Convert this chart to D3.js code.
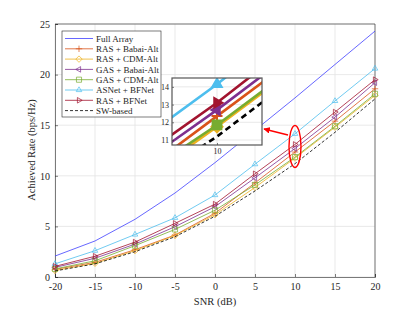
<html>
<head>
<meta charset="utf-8">
<script src="https://cdn.jsdelivr.net/npm/d3@7"></script>
<style>
body { margin: 0; background: #fff; }
text { font-family: "Liberation Serif", "Times New Roman", serif; fill: #262626; }
</style>
</head>
<body>
<script>
// values
var snr = [-20, -15, -10, -5, 0, 5, 10, 15, 20];
var fullArray = [2.07, 3.56, 5.7, 8.3, 11.3, 14.5, 17.7, 21.0, 24.3];
var rasBabai  = [0.75, 1.45, 2.7, 4.15, 6.3, 9.3, 12.35, 15.4, 18.6];
var rasCdm    = [0.65, 1.35, 2.6, 4.1, 6.15, 8.85, 11.75, 14.8, 17.95];
var gasBabai  = [0.95, 1.85, 3.25, 4.97, 6.95, 9.8, 12.7, 15.8, 19.2];
var gasCdm    = [0.8, 1.6, 3.1, 4.7, 6.6, 9.1, 11.85, 14.9, 18.1];
var asnet     = [1.3, 2.6, 4.2, 5.85, 8.1, 11.15, 14.15, 17.4, 20.6];
var rasBfnet  = [1.05, 2.05, 3.45, 5.3, 7.2, 10.2, 13.1, 16.3, 19.5];
var swBased   = [0.6, 1.3, 2.5, 3.98, 6.0, 8.5, 11.2, 14.3, 17.6];

var xTicks = [-20, -15, -10, -5, 0, 5, 10, 15, 20];
var yTicks = [0, 5, 10, 15, 20, 25];
var insetYTicks = [11, 12, 13, 14];
var insetXTicks = [10];

var series = [
  {name: "Full Array",       values: fullArray, color: "#4040ff", marker: null},
  {name: "RAS + Babai-Alt",  values: rasBabai,  color: "#D95319", marker: "plus"},
  {name: "RAS + CDM-Alt",    values: rasCdm,    color: "#EDB120", marker: "diamond"},
  {name: "GAS + Babai-Alt",  values: gasBabai,  color: "#7E2F8E", marker: "left"},
  {name: "GAS + CDM-Alt",    values: gasCdm,    color: "#77AC30", marker: "square"},
  {name: "ASNet + BFNet",    values: asnet,     color: "#4DBEEE", marker: "up"},
  {name: "RAS + BFNet",      values: rasBfnet,  color: "#A2142F", marker: "right"},
  {name: "SW-based",         values: swBased,   color: "#000000", marker: null, dash: "3,2"}
];

function markerPath(type, r) {
  var c = 0.87 * r, h = 0.5 * r, s = 0.8 * r;
  if (type == "plus") return "M" + (-r) + ",0H" + r + "M0," + (-r) + "V" + r;
  if (type == "diamond") return "M0," + (-r) + "L" + r + ",0L0," + r + "L" + (-r) + ",0Z";
  if (type == "up") return "M0," + (-r) + "L" + c + "," + h + "L" + (-c) + "," + h + "Z";
  if (type == "left") return "M" + (-r) + ",0L" + h + "," + (-c) + "L" + h + "," + c + "Z";
  if (type == "right") return "M" + r + ",0L" + (-h) + "," + (-c) + "L" + (-h) + "," + c + "Z";
  if (type == "square") return "M" + (-s) + "," + (-s) + "h" + 2 * s + "v" + 2 * s + "h" + (-2 * s) + "Z";
  return "";
}
function plain(d) { return String(d); }

var W = 415, H = 312;
var svg = d3.select("body").append("svg").attr("width", W).attr("height", H);

var x = d3.scaleLinear().domain([-20, 20]).range([55, 375]);
var y = d3.scaleLinear().domain([0, 25]).range([277, 24]);

// grid
svg.append("g").selectAll("line").data(xTicks).enter().append("line")
  .attr("x1", function(d) { return x(d); }).attr("x2", function(d) { return x(d); })
  .attr("y1", y(0)).attr("y2", y(25)).attr("stroke", "#e3e3e3").attr("stroke-width", 0.8);
svg.append("g").selectAll("line").data(yTicks).enter().append("line")
  .attr("y1", function(d) { return y(d); }).attr("y2", function(d) { return y(d); })
  .attr("x1", x(-20)).attr("x2", x(20)).attr("stroke", "#e3e3e3").attr("stroke-width", 0.8);

// axes
var xAxis = svg.append("g").attr("transform", "translate(0," + y(0) + ")")
  .call(d3.axisBottom(x).tickValues(xTicks).tickFormat(plain).tickSize(-3).tickPadding(6));
var yAxis = svg.append("g").attr("transform", "translate(" + x(-20) + ",0)")
  .call(d3.axisLeft(y).tickValues(yTicks).tickFormat(plain).tickSize(-3).tickPadding(5));
[xAxis, yAxis].forEach(function(a) {
  a.select(".domain").attr("stroke", "#262626").attr("stroke-width", 0.6);
  a.selectAll(".tick line").attr("stroke", "#262626").attr("stroke-width", 0.6);
  a.selectAll("text").style("font-family", "Liberation Serif").style("font-size", "10px").attr("fill", "#262626");
});
// top / right box lines
svg.append("line").attr("x1", x(-20)).attr("x2", x(20)).attr("y1", y(25)).attr("y2", y(25))
  .attr("stroke", "#262626").attr("stroke-width", 0.6);
svg.append("line").attr("x1", x(20)).attr("x2", x(20)).attr("y1", y(0)).attr("y2", y(25))
  .attr("stroke", "#262626").attr("stroke-width", 0.6);

// main lines
var line = d3.line().x(function(d, i) { return x(snr[i]); }).y(function(d) { return y(d); });
series.forEach(function(s) {
  svg.append("path").datum(s.values).attr("d", line)
    .attr("fill", "none").attr("stroke", s.color).attr("stroke-width", 0.8)
    .attr("stroke-dasharray", s.dash || null);
  if (s.marker) {
    svg.append("g").selectAll("path").data(s.values).enter().append("path")
      .attr("transform", function(d, i) { return "translate(" + x(snr[i]) + "," + y(d) + ")"; })
      .attr("d", markerPath(s.marker, 3.2))
      .attr("fill", "none").attr("stroke", s.color).attr("stroke-width", 0.7);
  }
});

// axis titles
svg.append("text").attr("x", 215).attr("y", 305).attr("text-anchor", "middle")
  .style("font-size", "10.5px").text("SNR (dB)");
svg.append("text").attr("transform", "translate(35,150) rotate(-90)").attr("text-anchor", "middle")
  .style("font-size", "10.5px").text("Achieved Rate (bps/Hz)");

// legend
var lg = svg.append("g");
lg.append("rect").attr("x", 62).attr("y", 31).attr("width", 99).attr("height", 86)
  .attr("fill", "#fff").attr("stroke", "#262626").attr("stroke-width", 0.6);
series.forEach(function(s, i) {
  var yy = 38.5 + i * 10.3;
  lg.append("line").attr("x1", 65).attr("x2", 93).attr("y1", yy).attr("y2", yy)
    .attr("stroke", s.color).attr("stroke-width", 0.8).attr("stroke-dasharray", s.dash || null);
  if (s.marker) {
    lg.append("path").attr("transform", "translate(79," + yy + ")").attr("d", markerPath(s.marker, 3.2))
      .attr("fill", "none").attr("stroke", s.color).attr("stroke-width", 0.7);
  }
  lg.append("text").attr("x", 96).attr("y", yy + 3.2).style("font-size", "9px").text(s.name);
});

// highlight ellipse and arrow
var note = {snr: 10, centre: 12.9, rx: 6, ry: 21};
svg.append("ellipse").attr("cx", x(note.snr)).attr("cy", y(note.centre)).attr("rx", note.rx).attr("ry", note.ry)
  .attr("fill", "none").attr("stroke", "#ff0000").attr("stroke-width", 1.4);
svg.append("defs").append("marker").attr("id", "ah").attr("viewBox", "0 0 10 10")
  .attr("refX", 9).attr("refY", 5).attr("markerWidth", 5).attr("markerHeight", 5)
  .attr("orient", "auto").append("path").attr("d", "M0,0L10,5L0,10Z").attr("fill", "#ff0000");
svg.append("line").attr("x1", x(note.snr) - 7).attr("y1", 135).attr("x2", 264).attr("y2", 129)
  .attr("stroke", "#ff0000").attr("stroke-width", 1.3).attr("marker-end", "url(#ah)");

// inset
var ix = d3.scaleLinear().domain([6.9, 13.1]).range([172, 262]);
var iy = d3.scaleLinear().domain([10.72, 14.5]).range([145, 78]);
var inset = svg.append("g");
inset.append("rect").attr("x", 172).attr("y", 78).attr("width", 90).attr("height", 67).attr("fill", "#fff");
svg.append("clipPath").attr("id", "ic").append("rect").attr("x", 172).attr("y", 78).attr("width", 90).attr("height", 67);
inset.append("g").selectAll("line").data(insetXTicks).enter().append("line")
  .attr("x1", function(d) { return ix(d); }).attr("x2", function(d) { return ix(d); })
  .attr("y1", 78).attr("y2", 145).attr("stroke", "#e3e3e3").attr("stroke-width", 0.8);
inset.append("g").selectAll("line").data(insetYTicks).enter().append("line")
  .attr("y1", function(d) { return iy(d); }).attr("y2", function(d) { return iy(d); })
  .attr("x1", 172).attr("x2", 262).attr("stroke", "#e3e3e3").attr("stroke-width", 0.8);
var iline = d3.line().x(function(d, i) { return ix(snr[i]); }).y(function(d) { return iy(d); });
var ig = inset.append("g").attr("clip-path", "url(#ic)");
series.forEach(function(s) {
  ig.append("path").datum(s.values).attr("d", iline)
    .attr("fill", "none").attr("stroke", s.color).attr("stroke-width", 2.6)
    .attr("stroke-dasharray", s.dash ? "6,4" : null);
  if (s.marker) {
    var k = snr.indexOf(10);
    ig.append("path").attr("transform", "translate(" + ix(10) + "," + iy(s.values[k]) + ")")
      .attr("d", markerPath(s.marker, 5.5))
      .attr("fill", s.marker == "plus" ? "none" : s.color).attr("stroke", s.color).attr("stroke-width", 2);
  }
});
var iyAxis = inset.append("g").attr("transform", "translate(172,0)")
  .call(d3.axisLeft(iy).tickValues(insetYTicks).tickFormat(plain).tickSize(-2).tickPadding(3));
var ixAxis = inset.append("g").attr("transform", "translate(0,145)")
  .call(d3.axisBottom(ix).tickValues(insetXTicks).tickFormat(plain).tickSize(-2).tickPadding(3));
[iyAxis, ixAxis].forEach(function(a) {
  a.select(".domain").remove();
  a.selectAll(".tick line").attr("stroke", "#262626").attr("stroke-width", 0.6);
  a.selectAll("text").style("font-family", "Liberation Serif").style("font-size", "8px").attr("fill", "#262626");
});
inset.append("rect").attr("x", 172).attr("y", 78).attr("width", 90).attr("height", 67)
  .attr("fill", "none").attr("stroke", "#555").attr("stroke-width", 1.2);
</script>
</body>
</html>
